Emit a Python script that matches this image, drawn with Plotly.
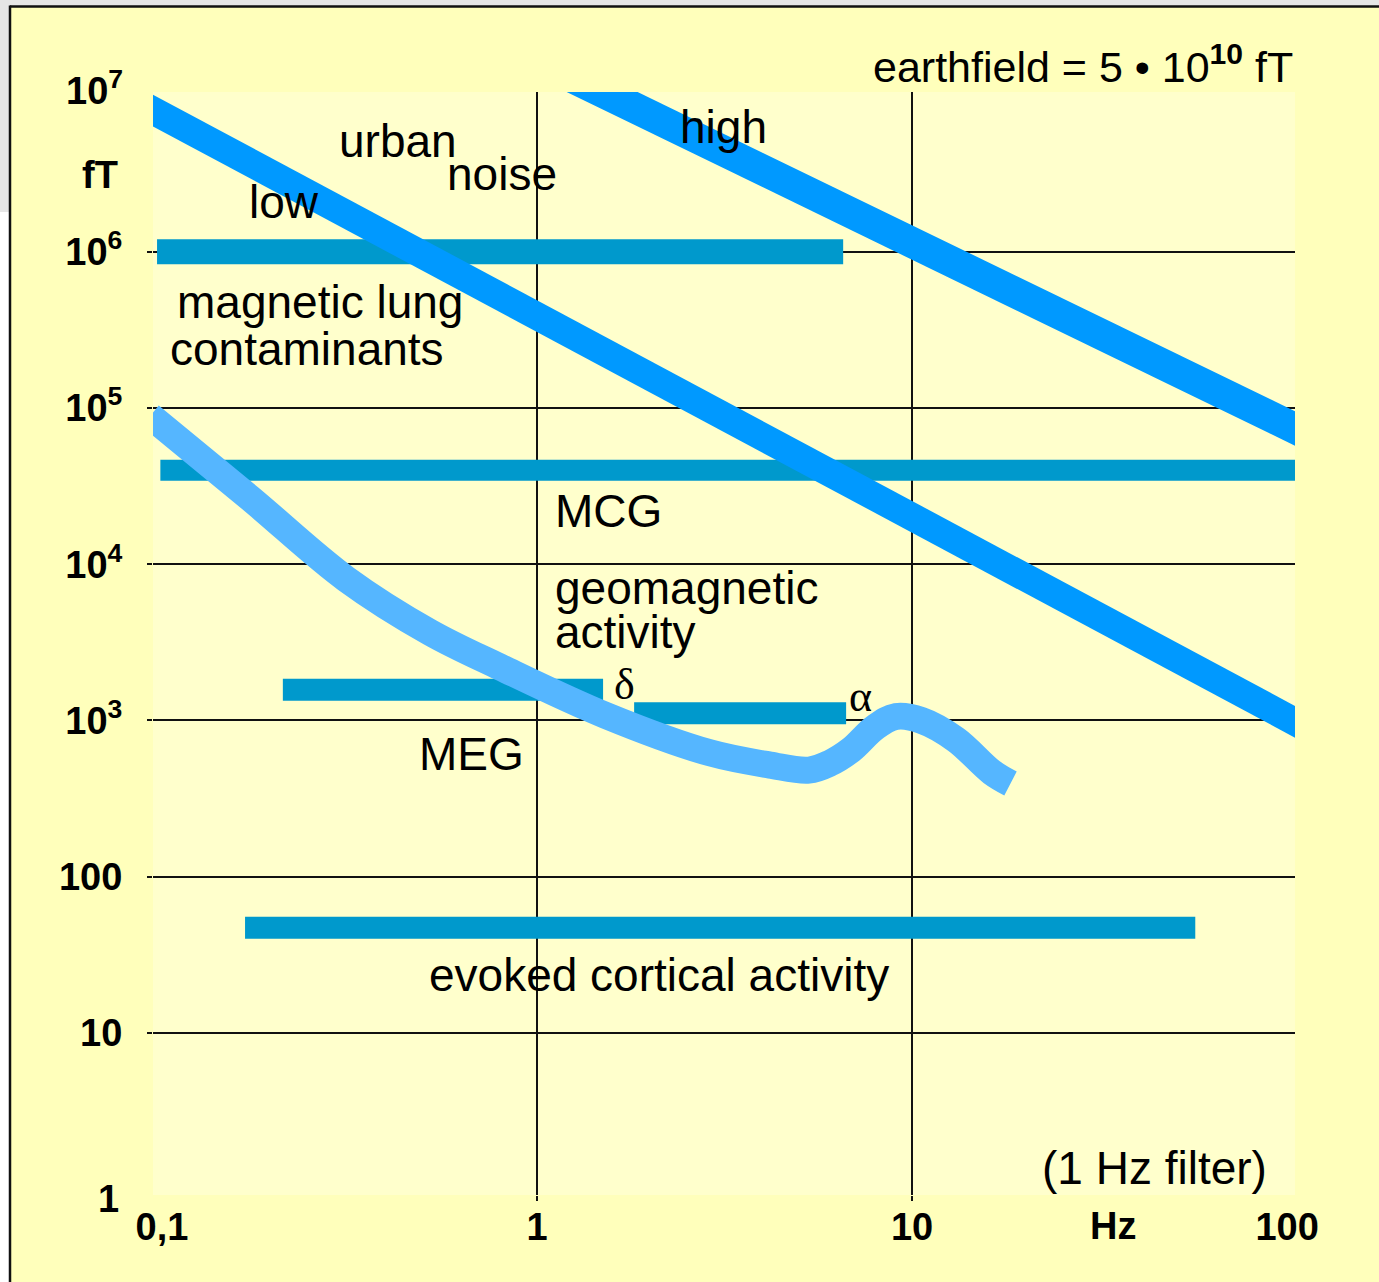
import plotly.graph_objects as go

# ---------------- data ----------------
lung_freq = [0.097, 6.55]
lung_ft = [1.0e6, 1.0e6]

mcg_freq = [0.099, 110]
mcg_ft = [4.0e4, 4.0e4]

delta_freq = [0.21, 1.5]
delta_ft = [1570, 1570]

alpha_freq = [1.815, 6.67]
alpha_ft = [1110, 1110]

evoked_freq = [0.1665, 56.9]
evoked_ft = [47, 47]

low_noise_freq = [0.09, 110]
low_noise_ft = [8.55e6, 923]

high_noise_freq = [0.9, 110]
high_noise_ft = [1.9e7, 7.0e4]

meg_freq = [0.093, 0.172, 0.310, 0.519, 0.797, 1.52, 2.89, 4.18, 5.31,
            6.04, 6.88, 7.96, 9.06, 10.6, 13.1, 16.3, 18.3]
meg_ft = [89000, 26400, 8040, 3660, 2200, 1080, 620, 518, 481,
          533, 649, 901, 1060, 1000, 753, 467, 395]

x_tickvals = [0.1, 1, 10, 100]
x_ticktext = ["0,1", "1", "10", "100"]
x_gridvals = [1, 10]
y_tickvals = [10, 100, 1e3, 1e4, 1e5, 1e6]
y_ticktext = ["10", "100", "10<sup>3</sup>", "10<sup>4</sup>", "10<sup>5</sup>", "10<sup>6</sup>"]

# ---------------- styling ----------------
NOISE = "#0099FF"
BAR = "#0099CC"
MEG = "#55B6FF"
OUTER = "#FFFFBB"
INNER = "#FFFFCC"
BOLD = "Liberation Sans, Arial, sans-serif"
SANS = "Liberation Sans, Arial, sans-serif"
SERIF = "Liberation Serif, Times New Roman, serif"
TICKSIZE = 38

fig = go.Figure()

def hbar(f, v, w):
    fig.add_trace(go.Scatter(x=f, y=v, mode="lines", line=dict(color=BAR, width=w),
                             hoverinfo="skip", showlegend=False))

hbar(lung_freq, lung_ft, 25)
hbar(mcg_freq, mcg_ft, 21)
hbar(delta_freq, delta_ft, 22)
hbar(alpha_freq, alpha_ft, 22)
hbar(evoked_freq, evoked_ft, 22)

# curves drawn on the overlaying x axis (carries the vertical grid)
fig.add_trace(go.Scatter(x=meg_freq, y=meg_ft, mode="lines", xaxis="x2", yaxis="y",
                         line=dict(color=MEG, width=27, shape="spline", smoothing=1.0),
                         hoverinfo="skip", showlegend=False))
fig.add_trace(go.Scatter(x=low_noise_freq, y=low_noise_ft, mode="lines", xaxis="x2", yaxis="y",
                         line=dict(color=NOISE, width=28), hoverinfo="skip", showlegend=False))
fig.add_trace(go.Scatter(x=high_noise_freq, y=high_noise_ft, mode="lines", xaxis="x2", yaxis="y",
                         line=dict(color=NOISE, width=31), hoverinfo="skip", showlegend=False))

XR = [-1.024, 2.021]
YR = [-0.038, 7.023]

fig.update_layout(
    width=1379, height=1282,
    margin=dict(l=153, r=84, t=92, b=87),
    paper_bgcolor=OUTER, plot_bgcolor=INNER,
    showlegend=False,
    xaxis=dict(type="log", range=XR, tickvals=x_tickvals, ticktext=x_ticktext,
               showgrid=False, ticks="", ticklabelstandoff=6,
               zeroline=False, showline=False,
               tickfont=dict(family=BOLD, size=TICKSIZE, color="black", weight="bold")),
    xaxis2=dict(type="log", range=XR, overlaying="x", side="bottom", anchor="y",
                tickvals=x_gridvals, showticklabels=False,
                showgrid=True, gridcolor="#111111", gridwidth=2,
                ticks="outside", ticklen=5, tickwidth=2, tickcolor="#111111",
                zeroline=False, showline=False),
    yaxis=dict(type="log", range=YR, tickvals=y_tickvals, ticktext=y_ticktext,
               showgrid=True, gridcolor="#111111", gridwidth=2,
               ticks="outside", ticklen=5, tickwidth=2, tickcolor="#111111",
               ticklabelstandoff=17, zeroline=False, showline=False,
               tickfont=dict(family=BOLD, size=TICKSIZE, color="black", weight="bold")),
)

# frame of the slide (gray strip, white margin, black border)
def px2paper_x(px):
    return (px - 153) / 1142

def px2paper_y(py):
    return (1195 - py) / 1103

fig.add_shape(type="rect", xref="paper", yref="paper", layer="below",
              x0=px2paper_x(-5), x1=px2paper_x(1390), y0=px2paper_y(6), y1=px2paper_y(-5),
              fillcolor="#E6E6E6", line_width=0)
fig.add_shape(type="rect", xref="paper", yref="paper", layer="below",
              x0=px2paper_x(-5), x1=px2paper_x(10), y0=px2paper_y(212), y1=px2paper_y(0),
              fillcolor="#E6E6E6", line_width=0)
fig.add_shape(type="rect", xref="paper", yref="paper", layer="below",
              x0=px2paper_x(-5), x1=px2paper_x(10), y0=px2paper_y(1290), y1=px2paper_y(212),
              fillcolor="white", line_width=0)
fig.add_shape(type="line", xref="paper", yref="paper", layer="below",
              x0=px2paper_x(10), x1=px2paper_x(1390), y0=px2paper_y(6.5), y1=px2paper_y(6.5),
              line=dict(color="#111111", width=2.5))
fig.add_shape(type="line", xref="paper", yref="paper", layer="below",
              x0=px2paper_x(10), x1=px2paper_x(10), y0=px2paper_y(5.5), y1=px2paper_y(1290),
              line=dict(color="#111111", width=2.5))

def note(text, x, y, xanchor="left", size=46, family=SANS, weight="normal"):
    fig.add_annotation(text=text, x=x, y=y, xref="x", yref="y", showarrow=False,
                       xanchor=xanchor, yanchor="middle",
                       font=dict(family=family, size=size, color="black", weight=weight))

def pnote(text, px, py, xanchor="left", size=46, family=SANS, weight="normal"):
    fig.add_annotation(text=text, x=px2paper_x(px), y=px2paper_y(py), xref="paper", yref="paper",
                       showarrow=False, xanchor=xanchor, yanchor="middle",
                       font=dict(family=family, size=size, color="black", weight=weight))

note("urban", -0.533, 6.709)
note("noise", -0.245, 6.498)
note("low", -0.773, 6.319)
note("high", 0.376, 6.799)
note("magnetic lung", -0.965, 5.679)
note("contaminants", -0.984, 5.378)
note("MCG", 0.043, 4.341)
note("geomagnetic", 0.043, 3.845)
note("activity", 0.043, 3.565)
note("MEG", -0.320, 2.785)
note("evoked cortical activity", -0.293, 1.370)
note("δ", 0.200, 3.233, size=44, family=SERIF)
note("α", 0.827, 3.156, size=44, family=SERIF)
note("(1 Hz filter)", 1.341, 0.134, size=46)

pnote("earthfield = 5 • 10<sup><b>10</b></sup> fT", 1295, 64, xanchor="right", size=43)
pnote("fT", 100, 175, xanchor="center", size=38, family=BOLD, weight="bold")
pnote("Hz", 1113, 1226, xanchor="center", size=TICKSIZE, family=BOLD, weight="bold")
pnote("10<sup>7</sup>", 125, 88, xanchor="right", size=TICKSIZE, family=BOLD, weight="bold")
pnote("1", 121, 1199, xanchor="right", size=TICKSIZE, family=BOLD, weight="bold")

fig.write_html("out.html", config={"displayModeBar": False},
               post_script="document.body.style.margin='0px';")
